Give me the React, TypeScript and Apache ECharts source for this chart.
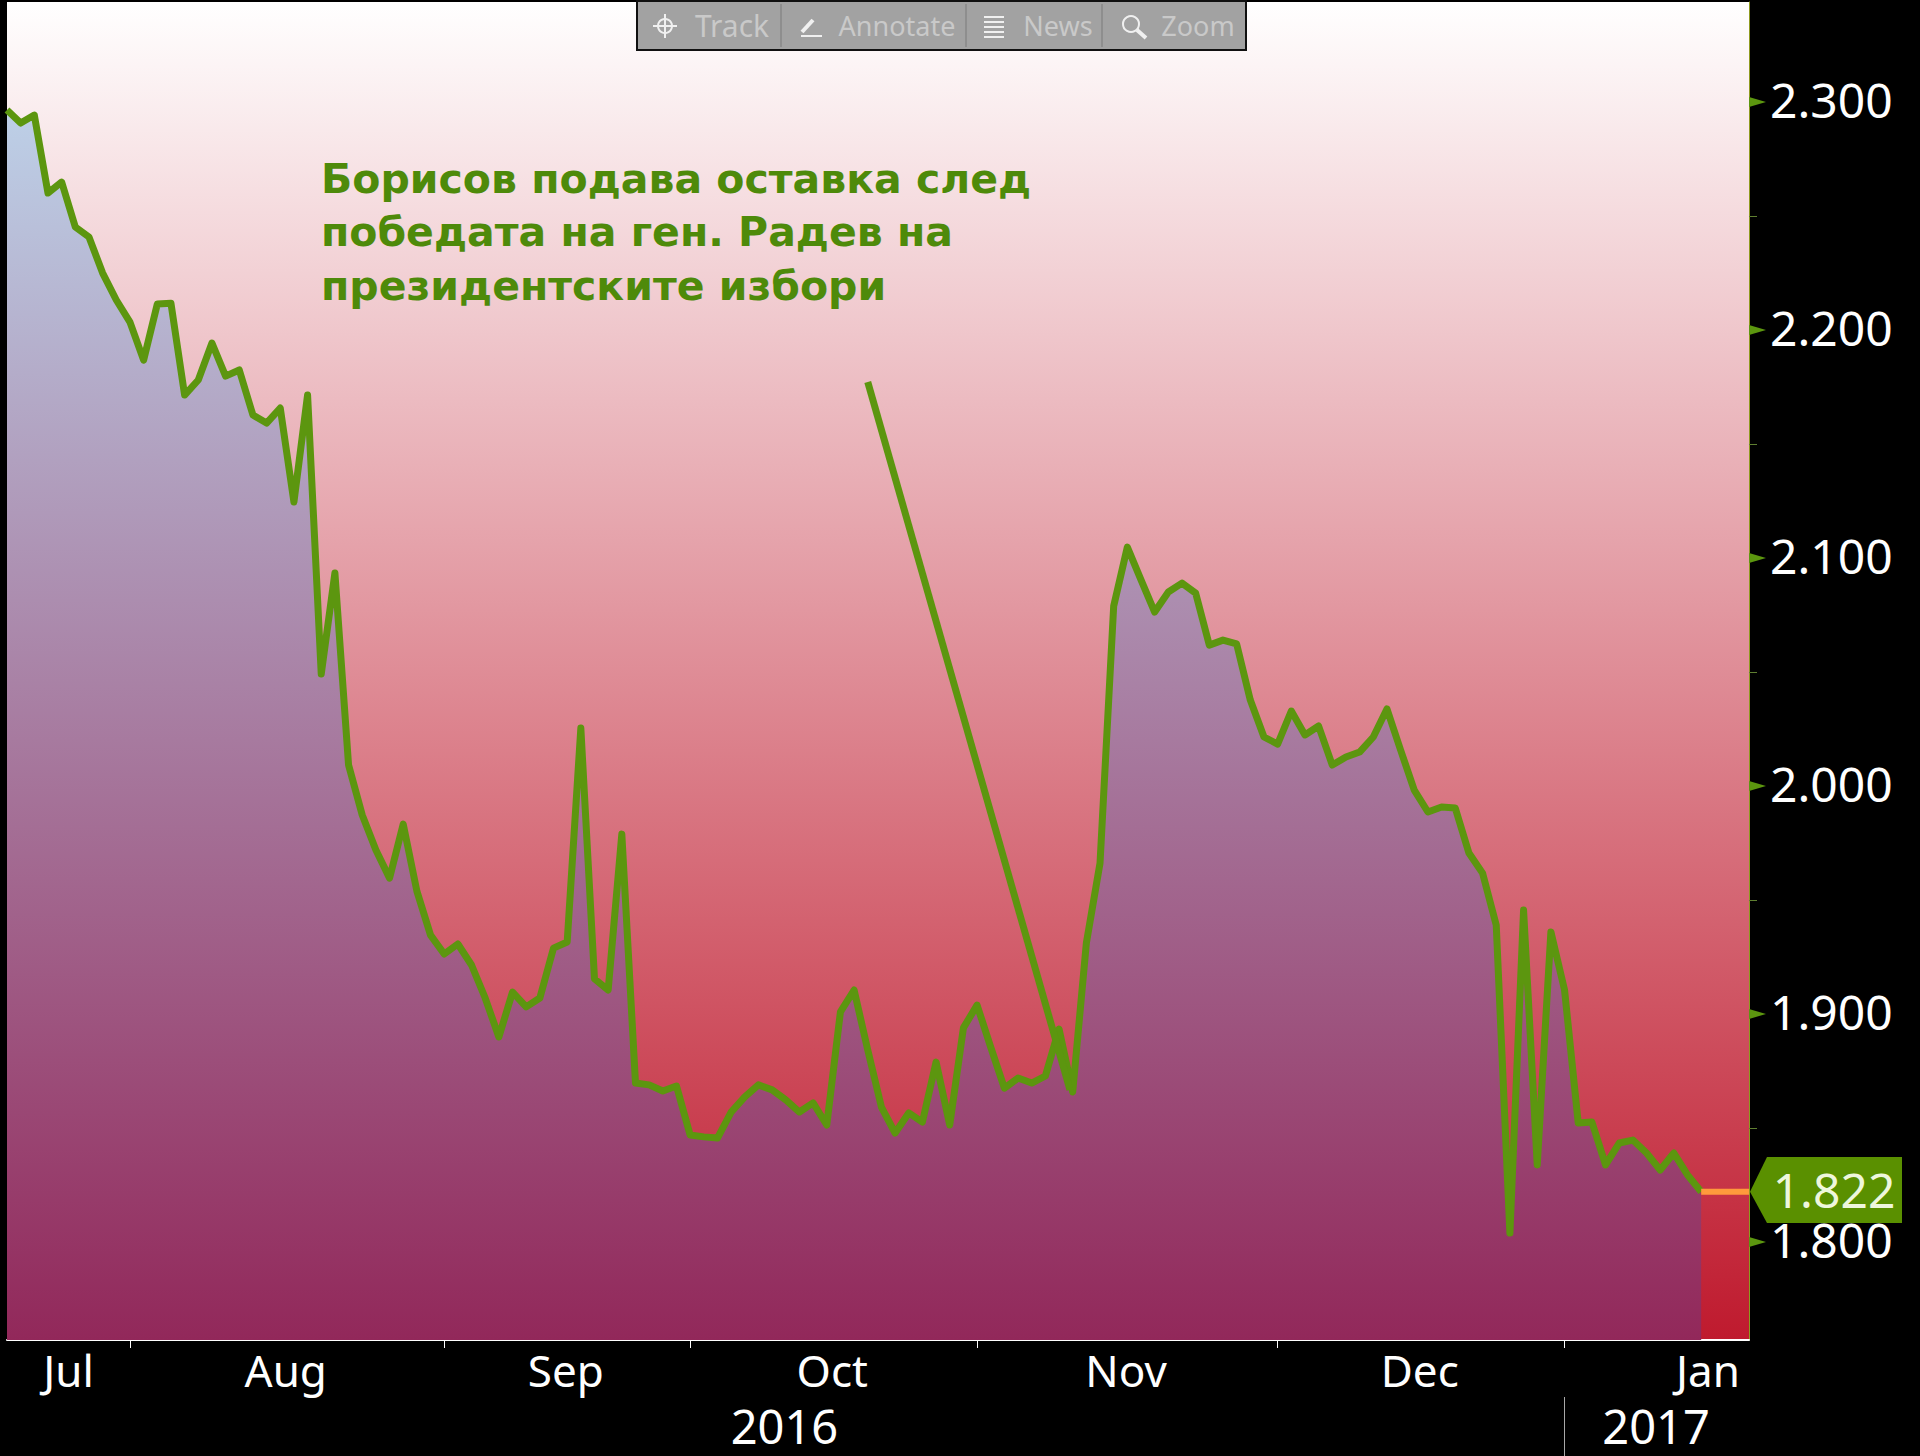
import React, { useEffect, useRef } from "react";
import * as echarts from "echarts";

const yieldValues = [
  2.2965, 2.2908, 2.2943, 2.2601, 2.2649, 2.2452, 2.2408, 2.225, 2.2132, 2.2035,
  2.1868, 2.2114, 2.2118, 2.1715, 2.1781, 2.1943, 2.1798, 2.1825, 2.1627, 2.1592,
  2.1658, 2.1246, 2.1715, 2.0491, 2.0934, 2.0092, 1.9873, 1.9719, 1.9596, 1.9833,
  1.9539, 1.9346, 1.9263, 1.9307, 1.9215, 1.907, 1.8899, 1.9096, 1.9031, 1.907,
  1.9289, 1.9316, 2.0254, 1.9154, 1.9105, 1.9789, 1.8697, 1.8689, 1.8662, 1.8684,
  1.8469, 1.8461, 1.8456, 1.857, 1.8636, 1.8689, 1.8667, 1.8623, 1.857, 1.861,
  1.8513, 1.9009, 1.9105, 1.8842, 1.8592, 1.8478, 1.8566, 1.8526, 1.8789, 1.8513,
  1.8939, 1.9039, 1.8855, 1.8675, 1.8719, 1.8697, 1.8728, 1.8934, 1.8658, 1.9311,
  1.9662, 2.0789, 2.1048, 2.0904, 2.0763, 2.0851, 2.089, 2.0846, 2.0618, 2.064,
  2.0623, 2.0377, 2.0215, 2.0184, 2.0329, 2.0224, 2.0263, 2.0092, 2.0127, 2.0149,
  2.0215, 2.0338, 2.0158, 1.9982, 1.9886, 1.9908, 1.9904, 1.9706, 1.9618, 1.939,
  1.8039, 1.9456, 1.8338, 1.936, 1.9105, 1.8522, 1.8526, 1.8338, 1.8434, 1.8447,
  1.839, 1.8316, 1.839, 1.8294, 1.822,
];
const lastValue = 1.822;
const xMax = 127.5;
const yMin = 1.757;
const yMax = 2.3439;

const monthLabels = ["Jul", "Aug", "Sep", "Oct", "Nov", "Dec", "Jan"];
const monthLabelPositions = [4.5, 20.4, 40.9, 60.4, 81.9, 103.4, 124.5];
const monthTickPositions = [9, 32, 50, 71, 93, 114];
const yearLabels = ["2016", "2017"];
const yearLabelPositions = [56.9, 120.7];
const yearTickPositions = [114];
const yMajorTicks = [1.8, 1.9, 2.0, 2.1, 2.2, 2.3];
const yMinorTicks = [1.85, 1.95, 2.05, 2.15, 2.25];
const annotationLines = [
  "Борисов подава оставка след",
  "победата на ген. Радев на",
  "президентските избори",
];
const annotationArrow = [
  [63, 2.1772],
  [77.8, 1.8667],
];
const toolbarLabels = ["Track", "Annotate", "News", "Zoom"];

const GREEN = "#5c960f";
const FONT = '"Noto Sans", sans-serif';

const nearestLabel = (v: number, positions: number[], labels: string[]) => {
  let best = -1;
  positions.forEach((p, i) => {
    if (Math.abs(p - v) < 0.01) best = i;
  });
  return best >= 0 ? labels[best] : "";
};

export default function App() {
  const ref = useRef<HTMLDivElement>(null);
  useEffect(() => {
    document.body.style.margin = "0";
    document.body.style.background = "#000";
    const chart = echarts.init(ref.current!, undefined, { renderer: "svg" });
    const bg = new echarts.graphic.LinearGradient(0, 0, 0, 1, [
      { offset: 0, color: "#ffffff" },
      { offset: 1, color: "#bf1a2e" },
    ]);
    const area = new echarts.graphic.LinearGradient(
      0, 0, 0, 1340,
      [
        { offset: 0, color: "#c1dff4" },
        { offset: 1, color: "#92285a" },
      ],
      true
    );
    chart.setOption({
      animation: false,
      backgroundColor: "#000000",
      grid: {
        show: true,
        left: 7,
        top: 2,
        width: 1742,
        height: 1338,
        backgroundColor: bg,
        borderWidth: 0,
      },
      xAxis: [
        {
          type: "value",
          min: 0,
          max: xMax,
          position: "bottom",
          splitLine: { show: false },
          axisLine: { show: true, onZero: false, lineStyle: { color: "#ffffff", width: 2 } },
          axisTick: {
            show: true,
            length: 8,
            customValues: monthTickPositions,
            lineStyle: { color: "#ffffff", width: 1 },
          },
          axisLabel: {
            customValues: monthLabelPositions,
            formatter: (v: number) => nearestLabel(v, monthLabelPositions, monthLabels),
            color: "#ffffff",
            fontFamily: FONT,
            fontSize: 44,
            margin: 8,
          },
        },
        {
          type: "value",
          min: 0,
          max: xMax,
          position: "bottom",
          offset: 57,
          splitLine: { show: false },
          axisLine: { show: false, onZero: false },
          axisTick: {
            show: true,
            length: 60,
            customValues: yearTickPositions,
            lineStyle: { color: "#a8a8a8", width: 1 },
          },
          axisLabel: {
            customValues: yearLabelPositions,
            formatter: (v: number) => nearestLabel(v, yearLabelPositions, yearLabels),
            color: "#ffffff",
            fontFamily: FONT,
            fontSize: 47,
            lineHeight: 40,
            margin: 9,
          },
        },
      ],
      yAxis: {
        type: "value",
        min: yMin,
        max: yMax,
        position: "right",
        splitLine: { show: false },
        axisLine: { show: true, onZero: false, lineStyle: { color: "#8f9a20", width: 1 } },
        axisTick: {
          show: true,
          length: 8,
          customValues: yMinorTicks,
          lineStyle: { color: "#5f7f30", width: 1 },
        },
        axisLabel: {
          customValues: yMajorTicks,
          formatter: (v: number) => v.toFixed(3),
          color: "#ffffff",
          fontFamily: FONT,
          fontSize: 48,
          lineHeight: 5,
          verticalAlign: "bottom",
          margin: 21,
        },
      },
      series: [
        {
          type: "line",
          xAxisIndex: 0,
          data: yieldValues.map((v, i) => [i, v]),
          showSymbol: false,
          silent: true,
          lineStyle: { color: GREEN, width: 7, join: "round" },
          areaStyle: { color: area, origin: "start", opacity: 1 },
          markLine: {
            silent: true,
            symbol: "none",
            label: { show: false },
            lineStyle: { color: GREEN, width: 7, type: "solid" },
            data: [
              [
                { coord: annotationArrow[0] },
                { coord: annotationArrow[1] },
              ],
            ],
          },
          z: 3,
        },
        {
          type: "line",
          xAxisIndex: 0,
          data: [
            [yieldValues.length - 1, lastValue],
            [xMax, lastValue],
          ],
          showSymbol: false,
          silent: true,
          lineStyle: { color: "#ff9a3c", width: 6 },
          z: 4,
        },
      ],
    });

    const yPx = (v: number) => chart.convertToPixel({ yAxisIndex: 0 }, v) as number;
    const axisX = 1749;
    const lastY = yPx(lastValue);
    const triangles = yMajorTicks.map((v) => ({
      type: "polygon",
      z: 10,
      shape: {
        points: [
          [axisX, yPx(v) - 5],
          [axisX + 17, yPx(v)],
          [axisX, yPx(v) + 5],
        ],
      },
      style: { fill: GREEN },
    }));
    const textX = 321;
    const textY = [179, 232, 286];
    const noteTexts = annotationLines.map((t, i) => ({
      type: "text",
      z: 12,
      x: textX,
      y: textY[i],
      style: {
        text: t,
        fill: "#4e8a0a",
        fontFamily: '"DejaVu Sans", sans-serif',
        fontWeight: "bold",
        fontSize: 41,
        verticalAlign: "middle",
        textAlign: "left",
      },
    }));
    const labelCenters = [732, 897, 1058, 1198];
    const toolbarTexts = toolbarLabels.map((t, i) => ({
      type: "text",
      z: 22,
      x: labelCenters[i],
      y: 25,
      style: {
        text: t,
        fill: "#c9c9c9",
        fontFamily: FONT,
        fontSize: i === 0 ? 30 : 27,
        textAlign: "center",
        verticalAlign: "middle",
      },
    }));
    const icon = { stroke: "#f0f0f0", lineWidth: 2, fill: "none" };
    const toolbarX = [781, 966, 1102].map((x) => ({
      type: "line",
      z: 21,
      shape: { x1: x, y1: 4, x2: x, y2: 47 },
      style: { stroke: "#8e8e8e", lineWidth: 2 },
    }));
    const line = (x1: number, y1: number, x2: number, y2: number, w = 2) => ({
      type: "line",
      z: 22,
      shape: { x1, y1, x2, y2 },
      style: { ...icon, lineWidth: w },
    });
    const icons = [
      { type: "circle", z: 22, shape: { cx: 665, cy: 26, r: 7 }, style: icon },
      line(665, 14, 665, 38),
      line(653, 26, 677, 26),
      line(802, 32, 813, 20, 4),
      line(801, 36, 822, 36, 2),
      line(984, 17, 1004, 17, 2),
      line(984, 22, 1004, 22, 2),
      line(984, 27, 1004, 27, 2),
      line(984, 32, 1004, 32, 2),
      line(984, 37, 1004, 37, 2),
      { type: "circle", z: 22, shape: { cx: 1131, cy: 24, r: 8 }, style: icon },
      line(1137, 30, 1146, 38, 4),
    ];
    chart.setOption({
      graphic: [
        ...triangles,
        ...noteTexts,
        {
          type: "polygon",
          z: 15,
          shape: {
            points: [
              [1750, lastY],
              [1767, 1157],
              [1902, 1157],
              [1902, 1223],
              [1767, 1223],
            ],
          },
          style: { fill: "#5a9000" },
        },
        {
          type: "text",
          z: 16,
          x: 1834,
          y: lastY - 2,
          style: {
            text: lastValue.toFixed(3),
            fill: "#eef7dc",
            fontFamily: FONT,
            fontSize: 48,
            lineHeight: 36,
            textAlign: "center",
            verticalAlign: "middle",
          },
        },
        {
          type: "rect",
          z: 20,
          shape: { x: 637, y: 1, width: 609, height: 49 },
          style: { fill: "#a2a2a2", stroke: "#101010", lineWidth: 2 },
        },
        ...toolbarX,
        ...toolbarTexts,
        ...icons,
      ],
    });
    return () => chart.dispose();
  }, []);
  return <div ref={ref} style={{ position: "absolute", left: 0, top: 0, width: 1920, height: 1456 }} />;
}
